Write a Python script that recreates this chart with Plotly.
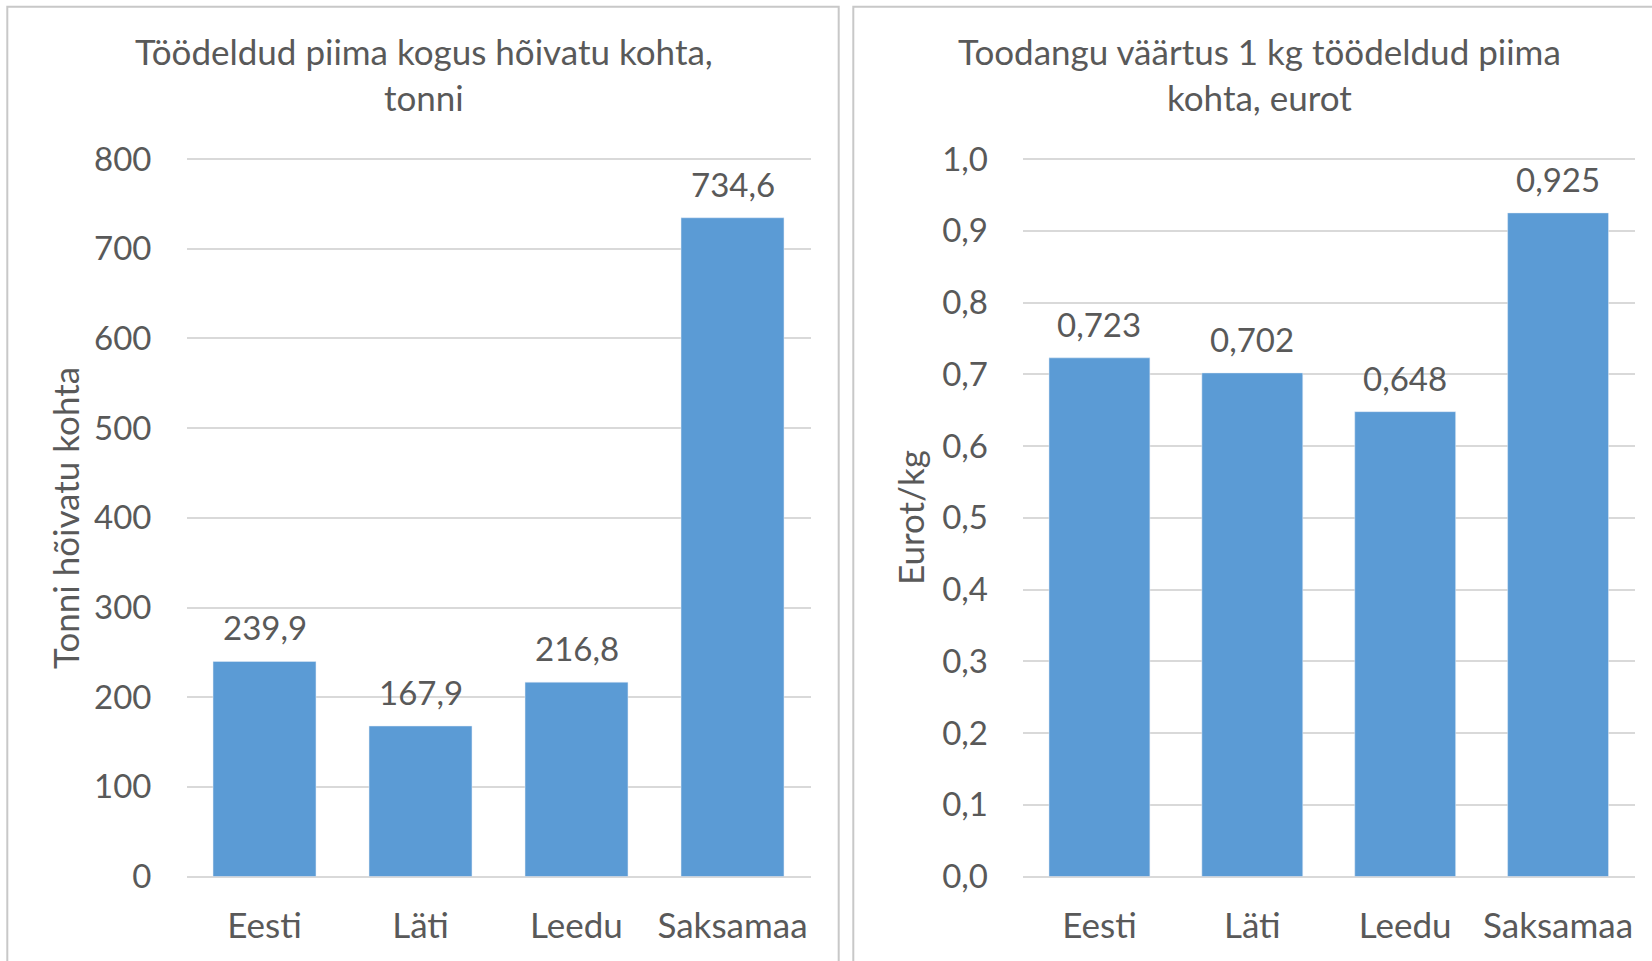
import plotly.graph_objects as go

categories = ["Eesti", "Läti", "Leedu", "Saksamaa"]
tonnes_per_employee = [239.9, 167.9, 216.8, 734.6]
value_per_kg = [0.723, 0.702, 0.648, 0.925]

title_left = "Töödeldud piima kogus hõivatu kohta,<br>tonni"
title_right = "Toodangu väärtus 1 kg töödeldud piima<br>kohta, eurot"
ytitle_left = "Tonni hõivatu kohta"
ytitle_right = "Eurot/kg"

W, H = 1652, 961
FONT = "Lato"
FS_NUM = 33
FS_TXT = 35
TXT = "#595959"
GRID = "#D9D9D9"
BAR = "#5B9BD5"

def px(x):
    return x / W

def py(y):
    return 1 - y / H

def fmt(v, d):
    return f"{v:.{d}f}".replace(".", ",")

fig = go.Figure()
fig.add_trace(go.Bar(x=categories, y=tonnes_per_employee, marker_color=BAR,
                     xaxis="x", yaxis="y", hoverinfo="skip"))
fig.add_trace(go.Bar(x=categories, y=value_per_kg, marker_color=BAR,
                     xaxis="x2", yaxis="y2", hoverinfo="skip"))

ydom = [py(876.6), py(157.3)]
common_x = dict(showgrid=False, showline=False, ticks="", ticklabelstandoff=25,
                automargin=False, tickfont=dict(family=FONT, size=FS_TXT, color=TXT))
common_y = dict(showgrid=True, gridcolor=GRID, gridwidth=1.5, zeroline=True,
                zerolinecolor=GRID, zerolinewidth=1.5, showline=False, ticks="",
                automargin=False, ticklabelstandoff=34,
                tickfont=dict(family=FONT, size=FS_NUM, color=TXT), domain=ydom)

fig.update_layout(
    width=W, height=H, margin=dict(l=0, r=0, t=0, b=0, autoexpand=False),
    paper_bgcolor="white", plot_bgcolor="white", showlegend=False,
    separators=", ", bargap=0.34,
    font=dict(family=FONT, size=FS_TXT, color=TXT),
    xaxis=dict(domain=[px(186.5), px(810.5)], anchor="y", **common_x),
    yaxis=dict(range=[0, 802], tickvals=[0, 100, 200, 300, 400, 500, 600, 700, 800],
               anchor="x", **common_y),
    xaxis2=dict(domain=[px(1023), px(1634.5)], anchor="y2", **common_x),
    yaxis2=dict(range=[0, 1.0025], tickvals=[0, 0.1, 0.2, 0.3, 0.4, 0.5, 0.6, 0.7, 0.8, 0.9, 1.0],
                tickformat=".1f", anchor="x2", **common_y),
)

# data labels above bars
for c, v in zip(categories, tonnes_per_employee):
    fig.add_annotation(x=c, y=v, xref="x", yref="y", text=fmt(v, 1), showarrow=False,
                       yanchor="middle", yshift=34,
                       font=dict(family=FONT, size=FS_NUM, color=TXT))
for c, v in zip(categories, value_per_kg):
    fig.add_annotation(x=c, y=v, xref="x2", yref="y2", text=fmt(v, 3), showarrow=False,
                       yanchor="middle", yshift=34,
                       font=dict(family=FONT, size=FS_NUM, color=TXT))

annots = [
    dict(text=title_left, x=px(423.5), y=py(74), xanchor="center", yanchor="middle"),
    dict(text=title_right, x=px(1259), y=py(74), xanchor="center", yanchor="middle"),
    dict(text=ytitle_left, x=px(65), y=py(518), textangle=-90, xanchor="center", yanchor="middle"),
    dict(text=ytitle_right, x=px(910), y=py(518), textangle=-90, xanchor="center", yanchor="middle"),
]
for a in annots:
    fig.add_annotation(xref="paper", yref="paper", showarrow=False,
                       font=dict(family=FONT, size=FS_TXT, color=TXT), **a)

border = dict(color="#C8C8C8", width=2)
fig.add_shape(type="rect", xref="paper", yref="paper",
              x0=px(7.3), x1=px(838.7), y0=-0.05, y1=py(6.7), line=border)
fig.add_shape(type="rect", xref="paper", yref="paper",
              x0=px(853.3), x1=1.05, y0=-0.05, y1=py(6.7), line=border)

fig.write_html("out.html", config={"displayModeBar": False},
               post_script="document.body.style.margin='0';")
